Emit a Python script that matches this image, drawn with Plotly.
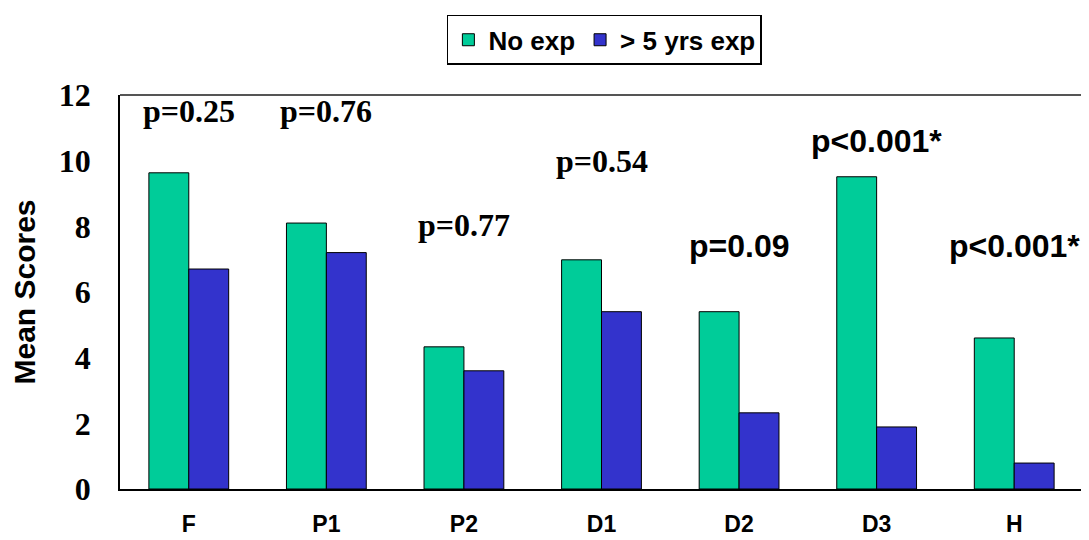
import plotly.graph_objects as go

# Mean scores by section
categories = ["F", "P1", "P2", "D1", "D2", "D3", "H"]
no_exp = [9.63, 8.1, 4.33, 6.98, 5.4, 9.51, 4.6]
over_5yrs = [6.7, 7.2, 3.6, 5.4, 2.32, 1.89, 0.79]

# p-value labels and the y level where each sits
p_labels = ["p=0.25", "p=0.76", "p=0.77", "p=0.54", "p=0.09", "p<0.001*", "p<0.001*"]
p_y = [11.5, 11.5, 8.05, 10.0, 7.4, 10.6, 7.4]
p_serif = [True, True, True, True, False, False, False]

fig = go.Figure()
fig.add_trace(go.Bar(x=categories, y=no_exp, name="<b>No exp</b>",
                     marker=dict(color="#00CC99", line=dict(color="black", width=1))))
fig.add_trace(go.Bar(x=categories, y=over_5yrs, name="<b>> 5 yrs exp</b>",
                     marker=dict(color="#3333CC", line=dict(color="black", width=1))))

for cat, lab, yv, serif in zip(categories, p_labels, p_y, p_serif):
    fam = "Liberation Serif" if serif else "Liberation Sans"
    fig.add_annotation(x=cat, y=yv, text="<b>%s</b>" % lab, showarrow=False,
                       font=dict(family=fam, size=32, color="black"))

# grey top/right frame
fig.add_shape(type="line", xref="paper", yref="paper", x0=0, x1=1, y0=1, y1=1,
              line=dict(color="#555555", width=2))
fig.add_shape(type="line", xref="paper", yref="paper", x0=1, x1=1, y0=0, y1=1,
              line=dict(color="#555555", width=2))

# page body has an 8px margin, so the plot box is offset by that
fig.update_layout(
    width=1089, height=540,
    margin=dict(l=112, r=14, t=87, b=59, autoexpand=False),
    plot_bgcolor="white", paper_bgcolor="white",
    barmode="group", bargap=0.42, bargroupgap=0,
    font=dict(family="Liberation Sans", color="black"),
    legend=dict(orientation="h", x=0.503, xanchor="center", y=1.14, yanchor="middle",
                bordercolor="black", borderwidth=1.5,
                font=dict(family="Liberation Sans", size=26, color="black"),
                itemwidth=30, traceorder="normal", tracegroupgap=0),
    showlegend=True,
)
fig.update_xaxes(showline=True, linecolor="black", linewidth=1.5, automargin=False,
                 tickfont=dict(family="Liberation Sans", size=23, color="black"),
                 tickprefix="<b>", ticksuffix="</b>", ticklabelstandoff=14)
fig.update_yaxes(range=[0, 12], dtick=2, showgrid=False, zeroline=False, automargin=False,
                 showline=True, linecolor="black", linewidth=1.5,
                 tickfont=dict(family="Liberation Serif", size=32, color="black"),
                 tickprefix="<b>", ticksuffix="</b>", ticklabelstandoff=21,
                 title=dict(text="<b>Mean Scores</b>", standoff=28,
                            font=dict(family="Liberation Sans", size=30, color="black")))

fig.write_html("out.html")
